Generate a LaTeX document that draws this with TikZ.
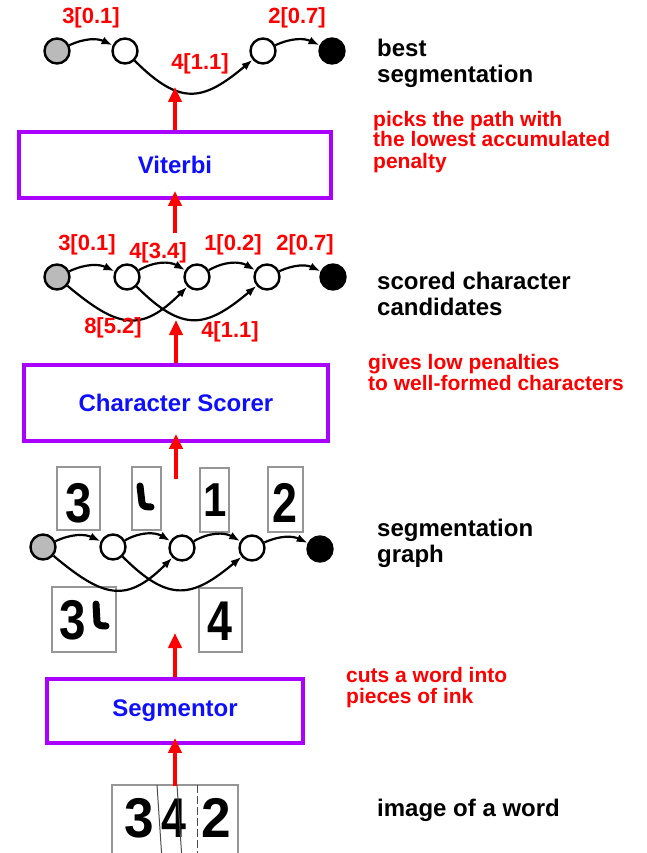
\documentclass[tikz,border=0pt]{standalone}
\usepackage{fontspec}
\setmainfont{Liberation Sans}
\usetikzlibrary{arrows.meta}
\definecolor{boxpurple}{RGB}{170,0,255}
\definecolor{lblblue}{RGB}{15,15,255}
\definecolor{imggray}{RGB}{150,150,150}
\begin{document}
\begin{tikzpicture}[x=1pt,y=1pt,
  vnode/.style={circle,draw,line width=2.4pt,minimum size=25pt,inner sep=0pt,fill=white},
  startnode/.style={vnode,fill=black!27},
  endnode/.style={vnode,fill=black},
  edge/.style={line width=2.2pt,-{Latex[length=11pt,width=8pt]}},
  elabel/.style={text=red,font=\bfseries\fontsize{22}{22}\selectfont,inner sep=0pt},
  note/.style={align=left,anchor=base west,font=\bfseries\fontsize{24}{26}\selectfont,inner sep=0pt},
  rednote/.style={align=left,anchor=base west,text=red,font=\bfseries\fontsize{21}{21}\selectfont,inner sep=0pt},
  procbox/.style={draw=boxpurple,line width=3.8pt,text=lblblue,font=\bfseries\fontsize{24}{24}\selectfont,inner sep=0pt},
  flow/.style={red,line width=4pt,-{Triangle[length=15pt,width=13pt]}},
  imgbox/.style={draw=imggray,line width=1.6pt,fill=white,inner sep=0pt},
  digit/.style={font=\bfseries\fontsize{56}{56}\selectfont,inner sep=0pt},
  stroke/.style={line width=7pt,line cap=round,line join=round}
]
\useasboundingbox (0,0) rectangle (647,-853);

% ---------- top: best segmentation ----------
\node[startnode] (a1) at (57,-51) {};
\node[vnode] (a2) at (125,-51) {};
\node[vnode] (a3) at (263,-51) {};
\node[endnode] (a4) at (332,-51) {};
\draw[edge] (a1) to[bend left=25] (a2);
\draw[edge] (a2) to[out=-45,in=-140,looseness=1.4] (a3);
\draw[edge] (a3) to[bend left=25] (a4);
\node[elabel] (la1) at (91,-18) {3[0.1]};
\node[elabel] (la2) at (200,-64) {4[1.1]};
\node[elabel] (la3) at (297,-18) {2[0.7]};

\node[note] (n1) at (377,-83) {best\\segmentation};
\node[rednote] (r1) at (373,-168) {picks the path with\\the lowest accumulated\\penalty};

% ---------- Viterbi ----------
\node[procbox,minimum width=312pt,minimum height=66pt] (viterbi) at (175,-165) {Viterbi};
\coordinate (t1) at (175,-87);
\draw[flow] (viterbi.north) -- (t1);

% ---------- scored character candidates ----------
\node[startnode] (b1) at (57,-277) {};
\node[vnode] (b2) at (127,-277) {};
\node[vnode] (b3) at (197,-277) {};
\node[vnode] (b4) at (267,-277) {};
\node[endnode] (b5) at (333,-277) {};
\draw[edge] (b1) to[bend left=25] (b2);
\draw[edge] (b2) to[bend left=30] (b3);
\draw[edge] (b3) to[bend left=30] (b4);
\draw[edge] (b4) to[bend left=25] (b5);
\draw[edge] (b1) to[out=-40,in=-135,looseness=1.4] (b3);
\draw[edge] (b2) to[out=-45,in=-140,looseness=1.4] (b4);
\node[elabel] (lb1) at (87,-245) {3[0.1]};
\node[elabel] (lb2) at (158,-253) {4[3.4]};
\node[elabel] (lb3) at (233,-245) {1[0.2]};
\node[elabel] (lb4) at (305,-245) {2[0.7]};
\node[elabel] (lb5) at (113,-328) {8[5.2]};
\node[elabel] (lb6) at (230,-332) {4[1.1]};
\coordinate (s2) at (175,-233);
\draw[flow] (s2) -- ([yshift=9pt]viterbi.south);

\node[note] (n2) at (377,-315) {scored character\\candidates};
\node[rednote] (r2) at (368,-390) {gives low penalties\\to well-formed characters};

% ---------- Character Scorer ----------
\node[procbox,minimum width=304pt,minimum height=76pt] (scorer) at (176,-403) {Character Scorer};
\coordinate (t3) at (176,-320);
\draw[flow] (scorer.north) -- (t3);

% ---------- segmentation graph ----------
\node[imgbox,minimum width=43pt,minimum height=63pt] (i1) at (78.5,-498.5) {};
\node[imgbox,minimum width=29pt,minimum height=63pt] (i2) at (146.5,-498.5) {};
\node[imgbox,minimum width=29pt,minimum height=64pt] (i3) at (214.5,-500) {};
\node[imgbox,minimum width=35pt,minimum height=65pt] (i4) at (285.5,-499.5) {};
\node[imgbox,minimum width=64pt,minimum height=65pt] (i5) at (84,-619.5) {};
\node[imgbox,minimum width=43pt,minimum height=64pt] (i6) at (220.5,-620) {};

\node[digit] (d1) at (79,-503) {\scalebox{0.85}[1]{3}};
\draw[stroke] (140,-486) -- (142,-503) to[out=-80,in=180] (151,-507);
\node[digit] (d3) at (215,-500) {\scalebox{0.75}[0.85]{1}};
\node[digit] (d4) at (285,-503) {\scalebox{0.8}[1]{2}};
\node[digit] (d5) at (73,-620) {\scalebox{0.85}[1]{3}};
\draw[stroke] (96,-604) -- (97,-622) to[out=-80,in=180] (106,-626);
\node[digit] (d6) at (220,-621) {\scalebox{0.8}[1]{4}};

\node[startnode] (c1) at (43,-547) {};
\node[vnode] (c2) at (113,-547) {};
\node[vnode] (c3) at (182,-548) {};
\node[vnode] (c4) at (252,-548) {};
\node[endnode] (c5) at (320,-549) {};
\draw[edge] (c1) to[bend left=25] (c2);
\draw[edge] (c2) to[bend left=30] (c3);
\draw[edge] (c3) to[bend left=30] (c4);
\draw[edge] (c4) to[bend left=25] (c5);
\draw[edge] (c1) to[out=-40,in=-135,looseness=1.4] (c3);
\draw[edge] (c2) to[out=-45,in=-140,looseness=1.4] (c4);
\coordinate (s4) at (176,-479);
\draw[flow] (s4) -- ([yshift=9pt]scorer.south);

\node[note] (n3) at (377,-562) {segmentation\\graph};
\node[rednote] (r3) at (346,-703) {cuts a word into\\pieces of ink};

% ---------- Segmentor ----------
\node[procbox,minimum width=256pt,minimum height=64pt] (segmentor) at (175,-711) {Segmentor};
\coordinate (t5) at (175,-633);
\draw[flow] (segmentor.north) -- (t5);

% ---------- image of a word ----------
\draw[imggray,line width=1.6pt] (112,-860) -- (112,-785) -- (238,-785) -- (238,-860);
\node[digit] (w1) at (139,-818) {\scalebox{0.95}[1]{3}};
\node[digit] (w2) at (174,-818) {\scalebox{0.8}[1]{4}};
\node[digit] (w3) at (216,-818) {\scalebox{0.95}[1]{2}};
\draw[black!70,line width=1pt] (157,-785) -- (162,-860);
\draw[black!70,line width=1pt] (177,-785) -- (182,-860);
\draw[black!70,line width=1pt,dash pattern=on 8pt off 3pt] (197,-785) -- (197,-860);
\coordinate (s6) at (175,-786);
\draw[flow] (s6) -- ([yshift=7pt]segmentor.south);

\node[note] (n4) at (377,-816) {image of a word};
\end{tikzpicture}
\end{document}
